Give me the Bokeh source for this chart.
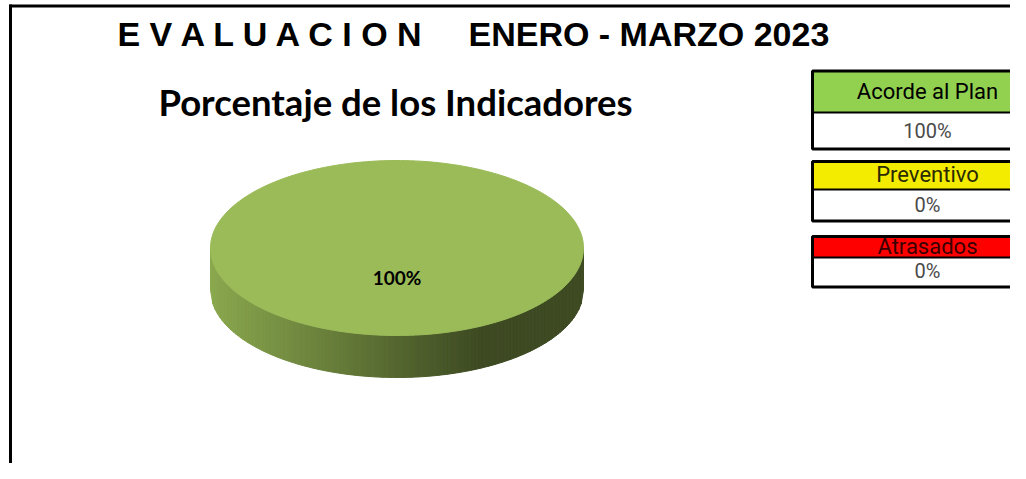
import math
from bokeh.plotting import figure
from bokeh.models import Range1d
from bokeh.core.properties import value
from bokeh.embed import file_html
from bokeh.resources import INLINE

# ---- data ----
title_left = "E V A L U A C I O N"
title_right = "ENERO - MARZO 2023"
subtitle = "Porcentaje de los Indicadores"
categories = ["Acorde al Plan", "Preventivo", "Atrasados"]
percent_values = [100, 0, 0]
header_colors = ["#92d050", "#f4ec00", "#ff0000"]
header_text_colors = ["#000000", "#2a2a00", "#3a0000"]
slice_colors = ["#9bbb59", "#f4ec00", "#ff0000"]
slice_dark = ["#3d4a22", "#6a6600", "#6a0000"]
slice_light = ["#8aa84e", "#d8d200", "#dd0000"]

W, H = 1010, 463
p = figure(width=W, height=H, output_backend="svg", toolbar_location=None,
           x_range=Range1d(0, W), y_range=Range1d(H, 0),
           x_axis_type=None, y_axis_type=None, min_border=0,
           background_fill_color="white", border_fill_color="white")
p.outline_line_color = None
p.grid.visible = False

# frame borders (top and left)
p.segment(x0=[9], y0=[5.5], x1=[W + 100], y1=[5.5], line_color="black", line_width=3)
p.segment(x0=[10], y0=[4], x1=[10], y1=[H + 20], line_color="black", line_width=3)

# titles
p.text(x=[117], y=[33], text=[title_left], text_font=value("Liberation Sans"),
       text_font_style="bold", text_font_size="34px", text_baseline="middle",
       text_align="left", text_color="black")
p.text(x=[468], y=[33], text=[title_right], text_font=value("Liberation Sans"),
       text_font_style="bold", text_font_size="34px", text_baseline="middle",
       text_align="left", text_color="black")
p.text(x=[395], y=[101], text=[subtitle], text_font=value("Lato"),
       text_font_style="bold", text_font_size="36.5px", text_baseline="middle",
       text_align="center", text_color="black")

# ---- 3D pie ----
cx, cy, rx, ry, depth = 396.5, 247.5, 186.5, 87.5, 42
total = sum(percent_values)
bounds = []
acc = 0.0
for v in percent_values:
    a0 = acc / total * 2 * math.pi
    acc += v
    a1 = acc / total * 2 * math.pi
    bounds.append((a0, a1))


def hex_mix(c1, c2, t):
    a = [int(c1[i:i + 2], 16) for i in (1, 3, 5)]
    b = [int(c2[i:i + 2], 16) for i in (1, 3, 5)]
    return "#%02x%02x%02x" % tuple(int(round(a[k] + (b[k] - a[k]) * t)) for k in range(3))


def slice_at(theta):
    theta = theta % (2 * math.pi)
    for i, (a0, a1) in enumerate(bounds):
        if a1 > a0 and a0 <= theta < a1 + 1e-9:
            return i
    return 0


def yb(x):
    u = max(-1.0, min(1.0, (x - cx) / rx))
    return cy + ry * math.sqrt(1 - u * u)

# side strips (front half visible)
n = 160
sx, sy, sc = [], [], []
for k in range(n):
    x0 = cx - rx + 2 * rx * k / n
    x1 = cx - rx + 2 * rx * (k + 1) / n
    xm = 0.5 * (x0 + x1)
    theta = math.acos(max(-1, min(1, (xm - cx) / rx)))
    i = slice_at(theta)
    t = min(1.0, max(0.0, (xm - (cx - rx)) / 270.0))
    col = hex_mix(slice_light[i], slice_dark[i], t)
    sx.append([x0, x1, x1, x0])
    sy.append([yb(x0), yb(x1), yb(x1) + depth, yb(x0) + depth])
    sc.append(col)
p.patches(xs=sx, ys=sy, fill_color=sc, line_color=sc, line_width=1)

# top face slices
for i, (a0, a1) in enumerate(bounds):
    if a1 - a0 <= 0:
        continue
    m = max(8, int(240 * (a1 - a0) / (2 * math.pi)))
    xs = [cx + rx * math.cos(a0 + (a1 - a0) * j / m) for j in range(m + 1)]
    ys = [cy + ry * math.sin(a0 + (a1 - a0) * j / m) for j in range(m + 1)]
    if a1 - a0 < 2 * math.pi - 1e-6:
        xs = [cx] + xs
        ys = [cy] + ys
    p.patch(x=xs, y=ys, fill_color=slice_colors[i], line_color=slice_colors[i], line_width=1)
    mid = 0.5 * (a0 + a1)
    if a1 - a0 >= 2 * math.pi - 1e-6:
        lx, ly = cx, 277
    else:
        lx, ly = cx + 0.6 * rx * math.cos(mid), cy + 0.6 * ry * math.sin(mid)
    p.text(x=[lx], y=[ly], text=["%d%%" % percent_values[i]], text_font=value("Lato"),
           text_font_style="bold", text_font_size="19px", text_baseline="middle",
           text_align="center", text_color="black")

# ---- indicator boxes ----
box_left = 812
box_right = W + 200
head_top = [70.5, 161, 236]
head_bot = [112, 189, 257]
row_bot = [148.5, 220.5, 286.5]
head_mid = [90.5, 173.5, 246]
val_mid = [130, 204.5, 270.5]
p.quad(left=[box_left] * 3, right=[box_right] * 3, top=head_top, bottom=head_bot,
       fill_color=header_colors, line_color=None)
p.quad(left=[box_left] * 3, right=[box_right] * 3, top=head_top, bottom=row_bot,
       fill_color=None, line_color="black", line_width=3)
p.segment(x0=[box_left] * 3, y0=head_bot, x1=[box_right] * 3, y1=head_bot,
          line_color="black", line_width=2)
tx = 927
p.text(x=[tx] * 3, y=head_mid, text=categories, text_font=value("Roboto"),
       text_font_size="22px", text_baseline="middle", text_align="center",
       text_color=header_text_colors)
p.text(x=[tx] * 3, y=val_mid, text=["%d%%" % v for v in percent_values],
       text_font=value("Roboto"), text_font_size="20px", text_baseline="middle",
       text_align="center", text_color="#4a4a4a")

open("out.html", "w").write(file_html(p, INLINE))
